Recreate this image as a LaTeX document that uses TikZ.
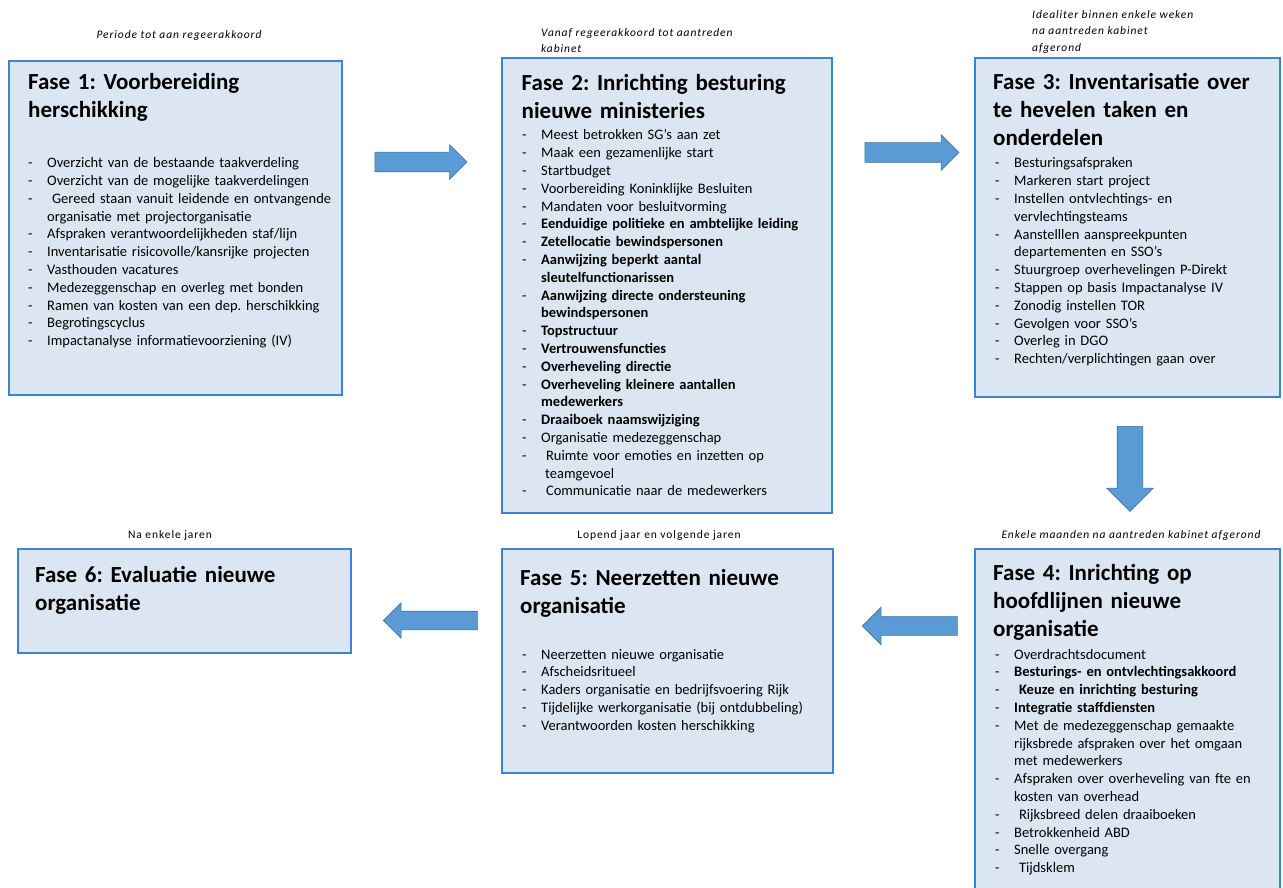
\documentclass[tikz,border=0pt]{standalone}
\usepackage{fontspec}
\setmainfont{Carlito}
\newfontfamily\kopfont[LetterSpace=8]{Carlito}
\usetikzlibrary{shapes.arrows}
\definecolor{vakvul}{HTML}{DCE6F2}
\definecolor{vakrand}{HTML}{3A85D3}
\definecolor{pijlvul}{HTML}{5B9BD5}
\definecolor{pijlrand}{HTML}{41719C}
\newcommand{\punt}[1]{\par\noindent\hangindent=19pt\hangafter=1\strut\makebox[19pt][l]{-}#1}
\newcommand{\bpunt}[1]{\punt{{\bfseries #1}}}
\frenchspacing

\begin{document}
\begin{tikzpicture}[x=1pt,y=-1pt]
\tikzstyle{vak}=[draw=vakrand, fill=vakvul, line width=1.6pt, inner sep=0pt]
\tikzstyle{titel}=[anchor=north west, inner sep=0pt, text width=330pt, align=left, font=\fontsize{23}{28}\selectfont\bfseries]
\tikzstyle{lijst}=[anchor=north west, inner sep=0pt, text width=330pt, align=left, font=\fontsize{14.5}{17.8}\selectfont]
\tikzstyle{kop}=[inner sep=0pt, align=left, font=\fontsize{11.5}{16.8}\selectfont\kopfont]
\tikzstyle{pijl}=[single arrow, draw=pijlrand, fill=pijlvul, line width=0.6pt, single arrow tip angle=90]
\useasboundingbox (0,0) rectangle (1283,888);

\node [vak, minimum width=333, minimum height=334] (f1) at (175.5,228) {};
\node [vak, minimum width=330, minimum height=455] (f2) at (667,285.5) {};
\node [vak, minimum width=305, minimum height=339] (f3) at (1127.5,227.5) {};
\node [vak, minimum width=305, minimum height=341] (f4) at (1127.5,719.5) {};
\node [vak, minimum width=331, minimum height=224] (f5) at (667.5,661) {};
\node [vak, minimum width=333, minimum height=104] (f6) at (184.5,601) {};

\node [kop, anchor=center] (k1) at (179,35) {\itshape Periode tot aan regeerakkoord};
\node [kop, anchor=north west] (k2) at (541,28) {\itshape Vanaf regeerakkoord tot aantreden\\ \itshape kabinet};
\node [kop, anchor=north west] (k3) at (1032,10) {\itshape Idealiter binnen enkele weken\\ \itshape na aantreden kabinet\\ \itshape afgerond};
\node [kop, anchor=center] (k4) at (1131,535) {\itshape Enkele maanden na aantreden kabinet afgerond};
\node [kop, anchor=center] (k5) at (659,535) {Lopend jaar en volgende jaren};
\node [kop, anchor=center] (k6) at (170,535) {Na enkele jaren};

\node [titel] (t1) at (28,70) {\strut Fase 1: Voorbereiding\\ herschikking};
\node [titel] (t2) at (521.5,71) {\strut Fase 2: Inrichting besturing\\ nieuwe ministeries};
\node [titel] (t3) at (993,70) {\strut Fase 3: Inventarisatie over\\ te hevelen taken en\\ onderdelen};
\node [titel] (t4) at (993,561) {\strut Fase 4: Inrichting op\\ hoofdlijnen nieuwe\\ organisatie};
\node [titel] (t5) at (520,566) {\strut Fase 5: Neerzetten nieuwe\\ organisatie};
\node [titel] (t6) at (35,563) {\strut Fase 6: Evaluatie nieuwe\\ organisatie};

\node [lijst] (l1) at (28,149.7) {
\punt{Overzicht van de bestaande taakverdeling}
\punt{Overzicht van de mogelijke taakverdelingen}
\punt{ Gereed staan vanuit leidende en ontvangende\newline organisatie met projectorganisatie}
\punt{Afspraken verantwoordelijkheden staf/lijn}
\punt{Inventarisatie risicovolle/kansrijke projecten}
\punt{Vasthouden vacatures}
\punt{Medezeggenschap en overleg met bonden}
\punt{Ramen van kosten van een dep. herschikking}
\punt{Begrotingscyclus}
\punt{Impactanalyse informatievoorziening (IV)}};

\node [lijst] (l2) at (522,122) {
\punt{Meest betrokken SG’s aan zet}
\punt{Maak een gezamenlijke start}
\punt{Startbudget}
\punt{Voorbereiding Koninklijke Besluiten}
\punt{Mandaten voor besluitvorming}
\bpunt{Eenduidige politieke en ambtelijke leiding}
\bpunt{Zetellocatie bewindspersonen}
\bpunt{Aanwijzing beperkt aantal\newline sleutelfunctionarissen}
\bpunt{Aanwijzing directe ondersteuning\newline bewindspersonen}
\bpunt{Topstructuur}
\bpunt{Vertrouwensfuncties}
\bpunt{Overheveling directie}
\bpunt{Overheveling kleinere aantallen\newline medewerkers}
\bpunt{Draaiboek naamswijziging}
\punt{Organisatie medezeggenschap}
\punt{ Ruimte voor emoties en inzetten op\newline\hspace*{4pt}teamgevoel}
\punt{ Communicatie naar de medewerkers}};

\node [lijst] (l3) at (995,150) {
\punt{Besturingsafspraken}
\punt{Markeren start project}
\punt{Instellen ontvlechtings- en\newline vervlechtingsteams}
\punt{Aanstelllen aanspreekpunten\newline departementen en SSO’s}
\punt{Stuurgroep overhevelingen P-Direkt}
\punt{Stappen op basis Impactanalyse IV}
\punt{Zonodig instellen TOR}
\punt{Gevolgen voor SSO’s}
\punt{Overleg in DGO}
\punt{Rechten/verplichtingen gaan over}};

\node [lijst] (l4) at (995,641) {
\punt{Overdrachtsdocument}
\bpunt{Besturings- en ontvlechtingsakkoord}
\bpunt{ Keuze en inrichting besturing}
\bpunt{Integratie staffdiensten}
\punt{Met de medezeggenschap gemaakte\newline rijksbrede afspraken over het omgaan\newline met medewerkers}
\punt{Afspraken over overheveling van fte en\newline kosten van overhead}
\punt{ Rijksbreed delen draaiboeken}
\punt{Betrokkenheid ABD}
\punt{Snelle overgang}
\punt{ Tijdsklem}};

\node [lijst] (l5) at (522,641) {
\punt{Neerzetten nieuwe organisatie}
\punt{Afscheidsritueel}
\punt{Kaders organisatie en bedrijfsvoering Rijk}
\punt{Tijdelijke werkorganisatie (bij ontdubbeling)}
\punt{Verantwoorden kosten herschikking}};

\node [pijl, minimum height=92, inner xsep=0pt, inner ysep=9.5pt, single arrow head extend=7.5pt] (p12) at (416,162) {};
\node [pijl, minimum height=94, inner xsep=0pt, inner ysep=9.5pt, single arrow head extend=8pt] (p23) at (907,152.5) {};
\node [pijl, minimum height=85, inner xsep=12.5pt, inner ysep=0pt, single arrow head extend=10.5pt, shape border rotate=270] (p34) at (1130,462.5) {};
\node [pijl, minimum height=95, inner xsep=0pt, inner ysep=9pt, single arrow head extend=9.5pt, shape border rotate=180] (p45) at (914.5,626) {};
\node [pijl, minimum height=94, inner xsep=0pt, inner ysep=9pt, single arrow head extend=8.5pt, shape border rotate=180] (p56) at (435,620.5) {};
\end{tikzpicture}
\end{document}
